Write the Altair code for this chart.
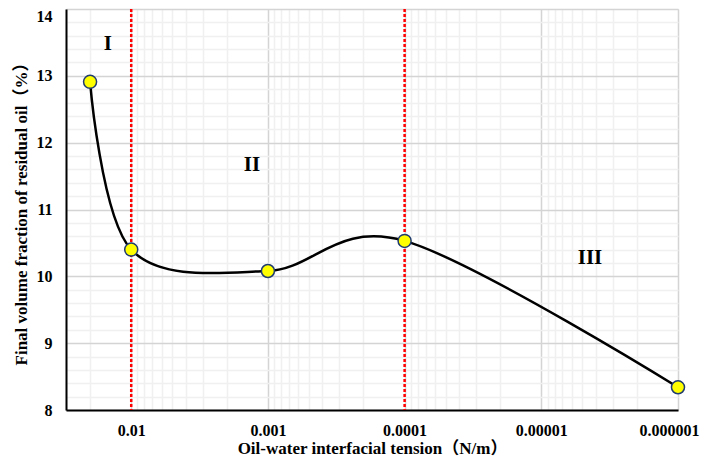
import altair as alt
import pandas as pd

# Data
tension = [0.02, 0.01, 0.001, 0.0001, 0.000001]
residual = [12.91, 10.40, 10.08, 10.53, 8.34]
boundaries = [0.01, 0.0001]
region_labels = ["I", "II", "III"]
region_x = [0.0148, 0.00131, 0.0000044]
region_y = [13.48, 11.66, 10.28]

x_major = [0.01, 0.001, 0.0001, 0.00001, 0.000001]
x_ticks = [0.03, 0.02]
for p in range(2, 7):
    base = 10.0 ** (-p)
    x_ticks += [round(m * base, 12) for m in range(9, 0, -1)]
y_ticks = [round(8 + 0.2 * i, 1) for i in range(31)]

FONT = "Liberation Serif, 'Times New Roman', 'Noto Sans CJK SC', serif"

df = pd.DataFrame({"x": tension, "y": residual})
df_b = pd.DataFrame({"x": boundaries})
df_t = pd.DataFrame({"x": region_x, "y": region_y, "t": region_labels})

is_major_x = "abs(log(datum.value)/LN10 - round(log(datum.value)/LN10)) < 1e-6 && datum.value < 0.02"
is_major_y = "abs(datum.value - round(datum.value)) < 1e-6"

xscale = alt.Scale(type="log", domain=[0.000001, 0.03], reverse=True, nice=False)
yscale = alt.Scale(domain=[8, 14], nice=False, zero=False)

xaxis = alt.Axis(
    values=x_ticks,
    labelExpr=f"({is_major_x}) ? format(datum.value, '.6~f') : ''",
    labelOffset={"condition": {"test": "datum.value < 0.0000011", "value": -9}, "value": 0},
    title="Oil-water interfacial tension（N/m）",
    ticks=False,
    grid=True,
    gridColor={"condition": {"test": is_major_x, "value": "#d4d4d4"}, "value": "#f0f0f0"},
    gridWidth=1.5,
    domainColor="black",
    domainWidth=2,
    labelFont=FONT, labelFontSize=16, labelFontWeight="bold", labelColor="black",
    labelPadding=12, labelOverlap=False, labelFlush=False,
    titleFont=FONT, titleFontSize=17, titleFontWeight="bold", titleColor="black",
    titlePadding=2,
)
yaxis = alt.Axis(
    values=y_ticks,
    labelExpr=f"({is_major_y}) ? format(datum.value, 'd') : ''",
    labelOffset={"condition": {"test": "datum.value > 13.9", "value": 7}, "value": 0},
    title="Final volume fraction of residual oil（%）",
    ticks=False,
    grid=True,
    gridColor={"condition": {"test": is_major_y, "value": "#d4d4d4"}, "value": "#f0f0f0"},
    gridWidth=1.5,
    domainColor="black",
    domainWidth=2,
    labelFont=FONT, labelFontSize=16, labelFontWeight="bold", labelColor="black",
    labelPadding=14, labelOverlap=False, labelFlush=False,
    titleFont=FONT, titleFontSize=17, titleFontWeight="bold", titleColor="black",
    titlePadding=6,
)

X = alt.X("x:Q", scale=xscale, axis=xaxis)
Y = alt.Y("y:Q", scale=yscale, axis=yaxis)

line = alt.Chart(df).mark_line(color="black", strokeWidth=2.5, interpolate="cardinal", tension=0).encode(
    x=X, y=Y,
)
rules = alt.Chart(df_b).mark_rule(color="#ff0000", strokeWidth=2.5, strokeDash=[3, 2]).encode(
    x=X
)
points = alt.Chart(df).mark_point(
    filled=True, fill="#ffff00", stroke="#1f3b6f", strokeWidth=1.5, size=170, opacity=1, shape="circle"
).encode(
    x=X, y=Y,
)
labels = alt.Chart(df_t).mark_text(
    font=FONT, fontSize=21, fontWeight="bold", color="black", align="center", baseline="middle"
).encode(
    x=X, y=Y,
    text="t:N",
)

chart = alt.layer(rules, line, points, labels).properties(
    width=612, height=401,
    autosize=alt.AutoSizeParams(type="none"),
    padding={"left": 58, "top": 1, "right": 23, "bottom": 48},
).configure_view(
    stroke="black", strokeWidth=1.5
).configure(background="white")

chart.save("out.html", embed_options={"renderer": "svg", "actions": False})
